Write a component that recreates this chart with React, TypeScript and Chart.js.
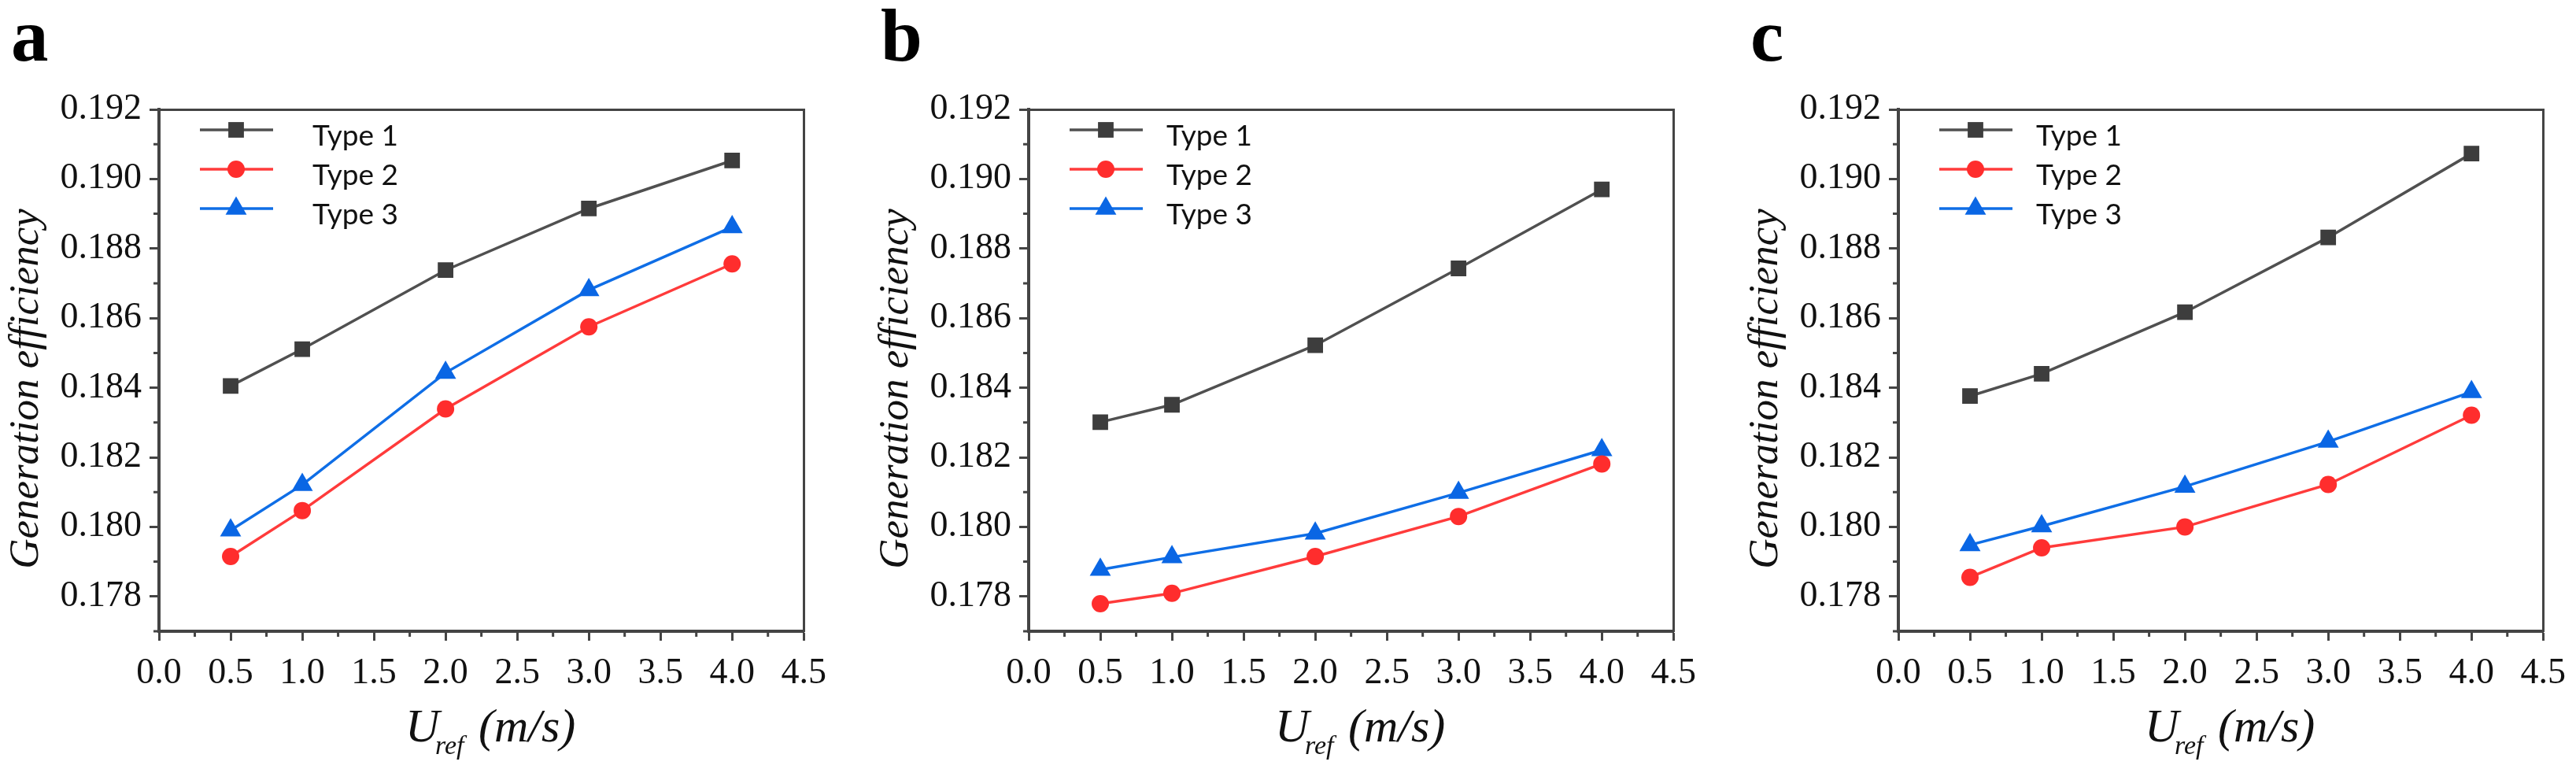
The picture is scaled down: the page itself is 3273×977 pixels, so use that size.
import { useEffect, useRef } from "react";
import { Chart, registerables } from "chart.js";

Chart.register(...registerables);

// wind speed (m/s)
const X_VALUES = [0.5, 1, 2, 3, 4];
const SERIES_LABELS = ["Type 1", "Type 2", "Type 3"];

// panel a
const A_TYPE1 = [0.18405, 0.18511, 0.18738, 0.18915, 0.19053];
const A_TYPE2 = [0.17915, 0.18047, 0.18339, 0.18575, 0.18756];
const A_TYPE3 = [0.1799, 0.18121, 0.18443, 0.18681, 0.18862];

// panel b
const B_TYPE1 = [0.18301, 0.18351, 0.18522, 0.18743, 0.1897];
const B_TYPE2 = [0.17779, 0.17809, 0.17915, 0.1803, 0.18181];
const B_TYPE3 = [0.17877, 0.17913, 0.17981, 0.18098, 0.18221];

// panel c
const C_TYPE1 = [0.18376, 0.1844, 0.18617, 0.18832, 0.19073];
const C_TYPE2 = [0.17855, 0.1794, 0.18, 0.18122, 0.18321];
const C_TYPE3 = [0.17948, 0.18002, 0.18116, 0.18245, 0.18388];

const X_TICKS = [0, 0.5, 1, 1.5, 2, 2.5, 3, 3.5, 4, 4.5];
const X_MINOR = [0.25, 0.75, 1.25, 1.75, 2.25, 2.75, 3.25, 3.75, 4.25];
const Y_TICKS = [0.178, 0.18, 0.182, 0.184, 0.186, 0.188, 0.19, 0.192];
const Y_MINOR = [0.177, 0.179, 0.181, 0.183, 0.185, 0.187, 0.189, 0.191];

const PANELS = [
  { letter: "a", series: [A_TYPE1, A_TYPE2, A_TYPE3] },
  { letter: "b", series: [B_TYPE1, B_TYPE2, B_TYPE3] },
  { letter: "c", series: [C_TYPE1, C_TYPE2, C_TYPE3] },
];

// styling
const LINE_COLORS = ["#505050", "#ff3b3b", "#0f6ee6"];
const MARKER_COLORS = ["#3d3d3d", "#ff2d2d", "#0a66e4"];
const MARKERS = ["rect", "circle", "triangle"];
const MARKER_RADII = [14, 11, 15.5];
const AXIS_COLOR = "#444444";
const TEXT_COLOR = "#111111";
const SERIF = "'Liberation Serif', 'Times New Roman', serif";
const SANS = "Lato, 'Noto Sans', sans-serif";

const PANEL_LEFT = [0, 1105, 2210];
const LEGEND_TEXT_DX = [195, 175, 175];
const CANVAS_W = 1064;
const CANVAS_H = 977;

function drawMarker(ctx: CanvasRenderingContext2D, style: string, x: number, y: number, r: number) {
  ctx.beginPath();
  if (style === "rect") {
    const s = Math.SQRT1_2 * r;
    ctx.rect(x - s, y - s, 2 * s, 2 * s);
  } else if (style === "circle") {
    ctx.arc(x, y, r, 0, Math.PI * 2);
  } else {
    const w = r * Math.sin((2 * Math.PI) / 3);
    ctx.moveTo(x, y - r);
    ctx.lineTo(x + w, y + r / 2);
    ctx.lineTo(x - w, y + r / 2);
    ctx.closePath();
  }
  ctx.fill();
}

function makeDecor(letter: string, legendDx: number) {
  return {
    id: "decor" + letter,
    afterDraw(chart: any) {
      const { ctx, chartArea, scales } = chart;
      const x = scales.x;
      const y = scales.y;
      ctx.save();

      // minor ticks
      ctx.strokeStyle = AXIS_COLOR;
      ctx.lineWidth = 3;
      ctx.beginPath();
      X_MINOR.forEach((v) => {
        const px = x.getPixelForValue(v);
        ctx.moveTo(px, chartArea.bottom);
        ctx.lineTo(px, chartArea.bottom + 7);
      });
      Y_MINOR.forEach((v) => {
        const py = y.getPixelForValue(v);
        ctx.moveTo(chartArea.left, py);
        ctx.lineTo(chartArea.left - 7, py);
      });
      ctx.stroke();

      // legend
      chart.data.datasets.forEach((ds: any, i: number) => {
        const rowY = chartArea.top + 26 + i * 50;
        ctx.strokeStyle = ds.borderColor;
        ctx.lineWidth = 3.5;
        ctx.beginPath();
        ctx.moveTo(chartArea.left + 52, rowY);
        ctx.lineTo(chartArea.left + 145, rowY);
        ctx.stroke();
        ctx.fillStyle = ds.pointBackgroundColor;
        drawMarker(ctx, ds.pointStyle, chartArea.left + 98, rowY, ds.pointRadius);
        ctx.fillStyle = "#111";
        ctx.font = `37px ${SANS}`;
        ctx.textAlign = "left";
        ctx.textBaseline = "alphabetic";
        ctx.fillText(ds.label, chartArea.left + legendDx, rowY + 20);
      });

      // panel letter
      ctx.fillStyle = "#000";
      ctx.font = `bold 95px ${SERIF}`;
      ctx.textAlign = "left";
      ctx.fillText(letter, chartArea.left - 188, 77);

      // y axis title
      ctx.save();
      ctx.translate(chartArea.left - 154, 494);
      ctx.rotate(-Math.PI / 2);
      ctx.font = `italic 53px ${SERIF}`;
      ctx.textAlign = "center";
      ctx.fillStyle = TEXT_COLOR;
      ctx.fillText("Generation efficiency", 0, 0);
      ctx.restore();

      // x axis title with subscript
      const x0 = chartArea.left + 313;
      ctx.fillStyle = TEXT_COLOR;
      ctx.textAlign = "left";
      ctx.font = `italic 60px ${SERIF}`;
      ctx.fillText("U", x0, 942);
      ctx.font = `italic 34px ${SERIF}`;
      ctx.fillText("ref", x0 + 38, 958);
      ctx.font = `italic 60px ${SERIF}`;
      ctx.fillText("(m/s)", x0 + 93, 942);

      ctx.restore();
    },
  };
}

function Panel({ index }: { index: number }) {
  const canvasRef = useRef<HTMLCanvasElement>(null);
  const panel = PANELS[index];

  useEffect(() => {
    if (!canvasRef.current) return;
    const ctx = canvasRef.current.getContext("2d");
    if (!ctx) return;

    const tickFont = { family: SERIF, size: 46 };
    const chart = new Chart(ctx, {
      type: "line",
      data: {
        datasets: panel.series.map((values, i) => ({
          label: SERIES_LABELS[i],
          data: X_VALUES.map((xv, j) => ({ x: xv, y: values[j] })),
          borderColor: LINE_COLORS[i],
          backgroundColor: MARKER_COLORS[i],
          borderWidth: 3.5,
          pointStyle: MARKERS[i] as any,
          pointRadius: MARKER_RADII[i],
          pointBackgroundColor: MARKER_COLORS[i],
          pointBorderColor: MARKER_COLORS[i],
          pointBorderWidth: 0,
          tension: 0,
          fill: false,
        })),
      },
      options: {
        animation: false,
        responsive: false,
        devicePixelRatio: 1,
        layout: { padding: { top: 139, right: 40, left: 0, bottom: 0 } },
        plugins: { legend: { display: false }, tooltip: { enabled: false } },
        scales: {
          x: {
            type: "linear",
            position: "bottom",
            min: 0,
            max: 4.5,
            afterFit: (s: any) => {
              s.height = 175;
            },
            afterBuildTicks: (s: any) => {
              s.ticks = X_TICKS.map((v) => ({ value: v }));
            },
            ticks: {
              font: tickFont,
              color: TEXT_COLOR,
              padding: 14,
              maxRotation: 0,
              autoSkip: false,
              callback: (v: any) => Number(v).toFixed(1),
            },
            grid: {
              drawOnChartArea: false,
              drawTicks: true,
              tickLength: 12,
              tickWidth: 3,
              tickColor: AXIS_COLOR,
            },
            border: { display: true, width: 4, color: AXIS_COLOR },
          },
          y: {
            type: "linear",
            position: "left",
            min: 0.177,
            max: 0.192,
            afterFit: (s: any) => {
              s.width = 202;
            },
            afterBuildTicks: (s: any) => {
              s.ticks = Y_TICKS.map((v) => ({ value: v }));
            },
            ticks: {
              font: tickFont,
              color: TEXT_COLOR,
              padding: 10,
              callback: (v: any) => Number(v).toFixed(3),
            },
            grid: {
              drawOnChartArea: false,
              drawTicks: true,
              tickLength: 12,
              tickWidth: 3,
              tickColor: AXIS_COLOR,
            },
            border: { display: true, width: 4, color: AXIS_COLOR },
          },
          xTop: {
            type: "linear",
            position: "top",
            min: 0,
            max: 4.5,
            afterFit: (s: any) => {
              s.height = 0;
            },
            ticks: { display: false },
            grid: { drawOnChartArea: false, drawTicks: false },
            border: { display: true, width: 3, color: AXIS_COLOR },
          },
          yRight: {
            type: "linear",
            position: "right",
            min: 0.177,
            max: 0.192,
            afterFit: (s: any) => {
              s.width = 0;
            },
            ticks: { display: false },
            grid: { drawOnChartArea: false, drawTicks: false },
            border: { display: true, width: 3, color: AXIS_COLOR },
          },
        },
      },
      plugins: [makeDecor(panel.letter, LEGEND_TEXT_DX[index])],
    });

    return () => chart.destroy();
  }, [index]);

  return (
    <canvas
      ref={canvasRef}
      width={CANVAS_W}
      height={CANVAS_H}
      style={{ position: "absolute", left: PANEL_LEFT[index], top: 0, width: CANVAS_W, height: CANVAS_H }}
    />
  );
}

export default function App() {
  return (
    <div style={{ position: "absolute", left: 0, top: 0, width: 3273, height: 977, background: "#fff" }}>
      {PANELS.map((_, i) => (
        <Panel key={i} index={i} />
      ))}
    </div>
  );
}
